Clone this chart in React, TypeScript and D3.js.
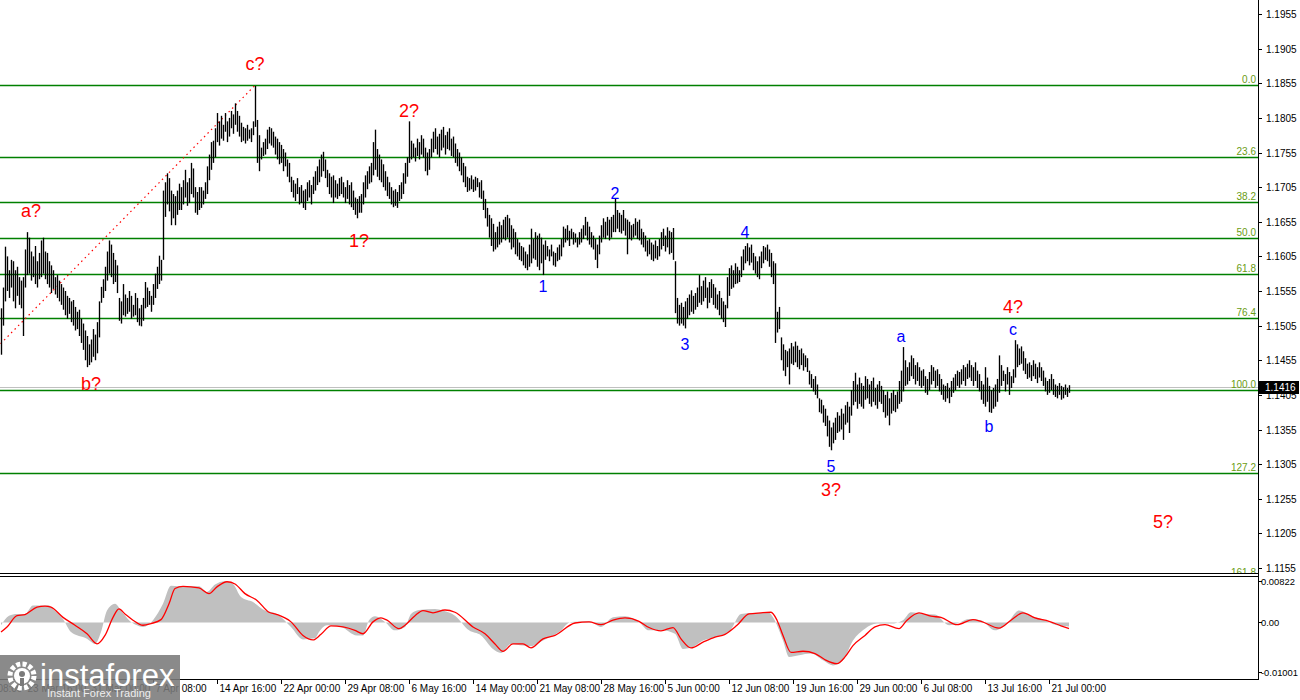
import { useEffect, useRef } from "react";
import * as d3 from "d3";

// H4 bars, oldest first. High / low in pips above 1.1000
const barHigh = [
  530, 560, 619, 605, 585, 600, 598, 585, 590, 575,
  570, 575, 615, 640, 632, 612, 605, 620, 598, 610,
  628, 632, 612, 610, 598, 592, 585, 575, 578, 570,
  565, 560, 555, 548, 545, 540, 542, 532, 525, 528,
  515, 508, 498, 490, 478, 485, 500, 492, 510, 540,
  561, 572, 590, 612, 628, 622, 610, 600, 592, 545,
  540, 565, 550, 545, 555, 548, 535, 552, 545, 530,
  535, 545, 568, 560, 555, 548, 565, 580, 590, 606,
  600, 700, 712, 725, 718, 700, 695, 692, 700, 710,
  705, 715, 730, 712, 718, 740, 732, 705, 698, 705,
  705, 700, 712, 735, 752, 770, 772, 790, 812, 800,
  808, 795, 812, 800, 805, 815, 810, 826, 815, 808,
  798, 792, 790, 795, 788, 790, 800, 851, 802, 780,
  762, 770, 775, 788, 792, 790, 785, 778, 775, 770,
  766, 760, 755, 745, 740, 720, 715, 710, 718, 705,
  708, 700, 702, 712, 715, 708, 720, 728, 735, 745,
  752, 756, 745, 730, 725, 720, 722, 715, 710, 718,
  720, 712, 705, 715, 708, 712, 700, 690, 688, 692,
  695, 712, 722, 728, 735, 740, 770, 788, 760, 752,
  745, 738, 728, 720, 712, 705, 700, 702, 698, 708,
  712, 725, 740, 748, 800, 772, 768, 762, 775, 770,
  780, 775, 762, 755, 760, 775, 785, 790, 778, 782,
  788, 792, 780, 785, 790, 775, 778, 768, 760, 755,
  748, 740, 735, 720, 718, 722, 716, 720, 718, 712,
  715, 700, 688, 675, 665, 660, 652, 640, 648, 655,
  650, 658, 662, 665, 660, 650, 645, 640, 630, 625,
  620, 618, 612, 608, 622, 645, 630, 640, 635, 638,
  632, 622, 628, 620, 615, 622, 612, 610, 618, 622,
  630, 648, 645, 650, 642, 645, 640, 638, 632, 640,
  645, 650, 662, 655, 648, 640, 635, 630, 622, 635,
  650, 660, 655, 662, 658, 662, 665, 688, 672, 668,
  665, 672, 660, 658, 655, 650, 652, 660, 655, 658,
  645, 640, 635, 628, 630, 625, 622, 628, 620, 630,
  640, 645, 635, 647, 642, 640, 646, 598, 545, 535,
  538, 532, 540, 545, 550, 556, 548, 552, 560, 578,
  562, 570, 575, 560, 568, 572, 565, 560, 550, 555,
  545, 540, 535, 575, 588, 592, 585, 595, 590, 585,
  605, 615, 620, 624, 618, 622, 610, 605, 598, 605,
  612, 620, 618, 622, 615, 610, 598, 595, 525, 532,
  488, 478, 470, 468, 472, 480, 475, 482, 476, 470,
  472, 465, 462, 458, 440, 435, 428, 432, 420, 400,
  398, 390, 385, 375, 368, 358, 365, 372, 380, 375,
  385, 378, 390, 395, 388, 412, 425, 437, 420, 430,
  422, 418, 432, 428, 420, 425, 430, 415, 420, 425,
  418, 412, 405, 410, 400, 408, 412, 405, 410, 425,
  440, 474, 455, 445, 452, 462, 458, 448, 452, 445,
  440, 442, 432, 428, 438, 448, 445, 440, 442, 435,
  428, 420, 418, 422, 415, 425, 430, 435, 440, 438,
  442, 448, 445, 450, 455, 448, 445, 452, 440, 435,
  425, 420, 445, 430, 418, 412, 415, 420, 428, 462,
  448, 440, 435, 445, 438, 432, 442, 484, 478, 472,
  475, 468, 458, 450, 452, 448, 455, 450, 445, 452,
  445, 440, 430, 425, 428, 435, 428, 420, 418, 422,
  418, 416, 420, 415, 419,
];
const barLow = [
  463, 505, 540, 555, 545, 560, 540, 530, 548, 535,
  530, 490, 560, 578, 580, 570, 575, 565, 560, 572,
  575, 580, 572, 565, 560, 552, 558, 550, 545, 540,
  535, 528, 520, 515, 522, 510, 505, 498, 500, 490,
  480, 470, 455, 445, 448, 452, 460, 455, 465, 488,
  538, 545, 555, 570, 580, 575, 565, 568, 552, 512,
  508, 520, 518, 522, 525, 515, 518, 520, 510, 505,
  504, 512, 530, 532, 535, 525, 535, 545, 558, 565,
  570, 600, 662, 680, 670, 650, 660, 650, 665, 672,
  672, 680, 690, 678, 682, 695, 690, 668, 665, 672,
  675, 680, 688, 695, 715, 730, 740, 748, 770, 765,
  775, 772, 785, 770, 778, 790, 782, 795, 785, 778,
  770, 772, 768, 772, 775, 770, 780, 792, 740, 728,
  745, 750, 752, 760, 768, 765, 762, 752, 745, 738,
  740, 728, 735, 720, 712, 698, 690, 685, 695, 680,
  682, 675, 672, 685, 690, 680, 695, 700, 708, 712,
  720, 728, 718, 705, 695, 690, 682, 690, 688, 692,
  695, 690, 682, 688, 680, 676, 672, 665, 660, 668,
  668, 680, 690, 702, 710, 712, 722, 730, 720, 715,
  712, 705, 700, 692, 688, 680, 676, 678, 675, 685,
  688, 695, 710, 720, 740, 745, 748, 742, 750, 745,
  752, 748, 728, 722, 730, 748, 755, 760, 752, 748,
  758, 762, 752, 760, 758, 750, 748, 740, 735, 728,
  722, 712, 705, 698, 700, 702, 698, 700, 705, 690,
  688, 672, 660, 648, 632, 620, 612, 615, 618, 622,
  625, 630, 628, 632, 625, 615, 618, 608, 605, 600,
  598, 592, 588, 585, 590, 595, 602, 600, 590, 585,
  595, 578, 600, 605, 598, 605, 592, 590, 598, 600,
  605, 618, 625, 628, 620, 630, 622, 625, 618, 622,
  625, 630, 635, 628, 622, 618, 615, 600, 588, 608,
  625, 632, 630, 635, 628, 632, 640, 640, 645, 640,
  638, 642, 635, 608, 630, 628, 632, 635, 630, 628,
  622, 618, 612, 605, 608, 600, 598, 602, 600, 605,
  615, 620, 612, 618, 608, 610, 600, 523, 508, 505,
  508, 505, 501, 515, 520, 525, 522, 528, 532, 538,
  535, 540, 545, 530, 538, 545, 535, 530, 528, 520,
  515, 510, 503, 530, 548, 558, 560, 565, 566, 568,
  575, 585, 595, 598, 592, 596, 585, 580, 575, 572,
  588, 595, 600, 598, 590, 575, 565, 480, 495, 500,
  455, 440, 432, 445, 420, 450, 448, 452, 445, 442,
  448, 440, 445, 438, 420, 415, 410, 405, 400, 380,
  378, 365, 360, 345, 330, 325, 335, 340, 350, 352,
  355, 340, 362, 365, 350, 375, 390, 395, 385, 392,
  388, 385, 398, 400, 392, 388, 395, 390, 385, 395,
  392, 380, 372, 375, 361, 378, 382, 380, 385, 392,
  395, 410, 418, 420, 425, 432, 428, 420, 425, 418,
  415, 418, 408, 405, 412, 420, 425, 415, 418, 410,
  405, 398, 395, 400, 393, 402, 408, 412, 418, 415,
  420, 425, 418, 428, 430, 425, 418, 425, 415, 410,
  398, 392, 388, 395, 380, 379, 385, 388, 395, 408,
  418, 425, 410, 420, 405, 415, 422, 430, 445, 448,
  450, 440, 435, 428, 430, 425, 432, 428, 422, 430,
  425, 418, 410, 405, 408, 412, 405, 402, 400, 405,
  398, 400, 405, 402, 408,
];

// time axis (bar index of each label)
const timeBars = [-20, 12, 44, 76, 108, 140, 172, 204, 236, 268, 300, 332, 364, 396, 428, 460, 492, 524];
const timeText = [
  "16 Mar 08:00", "23 Mar 16:00", "31 Mar 00:00", "7 Apr 08:00", "14 Apr 16:00", "22 Apr 00:00",
  "29 Apr 08:00", "6 May 16:00", "14 May 00:00", "21 May 08:00", "28 May 16:00", "5 Jun 00:00",
  "12 Jun 08:00", "19 Jun 16:00", "29 Jun 00:00", "6 Jul 08:00", "13 Jul 16:00", "21 Jul 00:00",
];

const priceTicks = [
  1.1955, 1.1905, 1.1855, 1.1805, 1.1755, 1.1705, 1.1655, 1.1605, 1.1555,
  1.1505, 1.1455, 1.1405, 1.1355, 1.1305, 1.1255, 1.1205, 1.1155,
];

// fibonacci grid
const fibRatios = [0, 0.236, 0.382, 0.5, 0.618, 0.764, 1, 1.272, 1.618];
const fibNames = ["0.0", "23.6", "38.2", "50.0", "61.8", "76.4", "100.0", "127.2", "161.8"];
const fibStart = { bar: -23, price: 1.1412 };
const fibEnd = { bar: 127, price: 1.1852 };

const lastPrice = 1.1416;

// wave marks
const waveNames = ["a?", "b?", "c?", "1?", "2?", "3?", "4?", "5?", "1", "2", "3", "4", "5", "a", "b", "c"];
const waveBars = [15, 45, 127, 179, 204, 415, 506, 581, 271, 307, 342, 372, 415, 450, 494, 506];
const wavePrices = [
  1.1662, 1.1412, 1.1874, 1.1619, 1.1806, 1.1259, 1.1523, 1.1213,
  1.1554, 1.1688, 1.147, 1.1632, 1.1294, 1.1481, 1.1351, 1.1491,
];

// oscillator, units of 0.0001
const histBars = [
  0, 4, 8, 12, 16, 24, 26, 31, 35, 43, 47, 50, 53, 57, 60, 64, 68, 71, 76, 81,
  85, 89, 99, 103, 107, 112, 116, 120, 126, 132, 138, 145, 151, 157, 159, 163, 170, 178, 181, 184,
  187, 192, 197, 202, 205, 209, 217, 221, 227, 234, 240, 246, 250, 255, 261, 265, 271, 279, 285, 294,
  300, 306, 312, 319, 324, 330, 337, 341, 345, 351, 357, 364, 370, 378, 384, 386, 391, 394, 399, 405,
  411, 416, 421, 426, 432, 438, 445, 451, 455, 461, 467, 474, 480, 484, 490, 497, 503, 509, 515, 521,
  528, 534,
];
const histVals = [
  -5, 12, 15, 15, 30, 30, 24, 6, -17, -29, -38, -17, 21, 33, 21, 4, -5, -8, 4, 33,
  65, 64, 64, 54, 67, 73, 68, 45, 36, 21, 15, -8, -30, -28, -17, -5, -8, -23, -23, 4,
  11, 1, -14, -8, 15, 22, 24, 21, 12, -14, -23, -47, -54, -38, -41, -42, -32, -17, 1, 2,
  -8, 9, 11, 1, -14, -14, -20, -47, -45, -32, -26, -17, 15, 17, 17, 9, -32, -61, -58, -55,
  -67, -76, -67, -32, -11, -2, -2, 4, 18, 15, 14, -5, 1, 6, 4, -14, -2, 21, 12, 5,
  -5, -7,
];
const sigBars = [
  0, 3, 8, 12, 18, 22, 25, 31, 37, 43, 48, 52, 56, 59, 62, 66, 71, 75, 80, 84,
  87, 91, 99, 104, 108, 113, 117, 122, 128, 134, 138, 145, 151, 156, 160, 165, 171, 177, 181, 186,
  190, 193, 199, 202, 207, 211, 216, 222, 227, 236, 242, 247, 251, 256, 261, 265, 271, 277, 287, 294,
  300, 306, 312, 319, 324, 330, 336, 340, 345, 351, 357, 362, 368, 374, 380, 385, 388, 391, 395, 401,
  407, 412, 418, 422, 426, 432, 437, 442, 449, 453, 459, 465, 470, 478, 486, 490, 499, 505, 511, 517,
  524, 530, 534,
];
const sigVals = [
  -17, -8, 12, 14, 27, 29, 27, 9, -5, -20, -38, -23, 9, 24, 15, 4, -5, -2, 5, 33,
  60, 64, 61, 51, 63, 72, 68, 51, 39, 18, 14, 1, -23, -31, -21, -6, -8, -14, -20, 1,
  8, 4, -11, -5, 12, 21, 17, 22, 18, -8, -20, -38, -51, -38, -38, -45, -29, -23, -1, 1,
  -4, 4, 8, 2, -9, -15, -9, -29, -45, -35, -26, -21, -5, 15, 17, 18, 4, -23, -53, -51,
  -55, -66, -73, -61, -41, -23, -8, -4, -11, 4, 17, 11, 9, -4, 5, 2, -10, 4, 17, 8,
  2, -6, -11,
];
const oscMax = 0.00822;
const oscMin = -0.01001;
const oscTickText = ["0.00822", "0.00", "-0.01001"];

const FONT = "'Liberation Sans', Arial, sans-serif";

export default function App() {
  const svgRef = useRef<SVGSVGElement>(null);

  useEffect(() => {
    if (!svgRef.current) return;
    const svg = d3.select(svgRef.current);
    svg.selectAll("*").remove();

    const plotRight = 1258;
    const mainBottom = 573;
    const oscTop = 576;
    const oscBottom = 679;

    const x = d3.scaleLinear().domain([0, barHigh.length - 1]).range([1, 1 + 2 * (barHigh.length - 1)]);
    const y = d3.scaleLinear().domain([1.1155, 1.1955]).range([568, 14]);
    const yo = d3.scaleLinear().domain([oscMin, oscMax]).range([oscBottom, oscTop]);
    const pip = (p: number) => 1.1 + p / 10000;
    const crisp = (v: number) => Math.round(v) + 0.5;

    svg.append("rect").attr("width", 1300).attr("height", 700).attr("fill", "#ffffff");

    const defs = svg.append("defs");
    defs.append("clipPath").attr("id", "clipMain")
      .append("rect").attr("x", 0).attr("y", 0).attr("width", plotRight).attr("height", mainBottom);
    defs.append("clipPath").attr("id", "clipOsc")
      .append("rect").attr("x", 0).attr("y", oscTop).attr("width", plotRight).attr("height", oscBottom - oscTop);

    const main = svg.append("g").attr("clip-path", "url(#clipMain)");

    // current bid line
    main.append("line")
      .attr("x1", 0).attr("x2", plotRight)
      .attr("y1", crisp(y(lastPrice))).attr("y2", crisp(y(lastPrice)))
      .attr("stroke", "#c0c0c0").attr("shape-rendering", "crispEdges");

    // fibonacci levels
    const span = fibEnd.price - fibStart.price;
    fibRatios.forEach((r, k) => {
      const yy = crisp(y(fibEnd.price - r * span));
      main.append("line")
        .attr("x1", 0).attr("x2", plotRight).attr("y1", yy).attr("y2", yy)
        .attr("stroke", "#008000").attr("stroke-width", 1.4);
      main.append("text")
        .attr("x", plotRight - 2).attr("y", yy - 2.5)
        .attr("text-anchor", "end")
        .attr("font-family", FONT).attr("font-size", 10)
        .attr("fill", "#6a9c12")
        .text(fibNames[k]);
    });

    // fib trend line (dotted)
    main.append("line")
      .attr("x1", x(fibStart.bar)).attr("y1", y(fibStart.price))
      .attr("x2", x(fibEnd.bar)).attr("y2", y(fibEnd.price))
      .attr("stroke", "#ff0000").attr("stroke-width", 1.2)
      .attr("stroke-dasharray", "1.5,3.5");

    // price bars
    main.append("g")
      .selectAll("line")
      .data(barHigh)
      .join("line")
      .attr("x1", (_, i) => x(i) + 0.5)
      .attr("x2", (_, i) => x(i) + 0.5)
      .attr("y1", (d) => y(pip(d)))
      .attr("y2", (_, i) => y(pip(barLow[i])))
      .attr("stroke", "#000000")
      .attr("stroke-width", 1.35);

    // wave labels
    main.append("g")
      .selectAll("text")
      .data(waveNames)
      .join("text")
      .attr("x", (_, i) => x(waveBars[i]))
      .attr("y", (_, i) => y(wavePrices[i]))
      .attr("text-anchor", "middle")
      .attr("font-family", FONT)
      .attr("font-size", (d) => (d.includes("?") ? 18 : 16))
      .attr("fill", (d) => (d.includes("?") ? "#ff0000" : "#0000ff"))
      .text((d) => d);

    // oscillator
    const osc = svg.append("g").attr("clip-path", "url(#clipOsc)");
    const histArea = d3.area<number>()
      .x((_, i) => x(histBars[i]))
      .y0(yo(0))
      .y1((d) => yo(d / 10000))
      .curve(d3.curveMonotoneX);
    osc.append("path").datum(histVals).attr("fill", "#c0c0c0").attr("d", histArea);

    const sigLine = d3.line<number>()
      .x((_, i) => x(sigBars[i]))
      .y((d) => yo(d / 10000))
      .curve(d3.curveMonotoneX);
    osc.append("path").datum(sigVals)
      .attr("fill", "none").attr("stroke", "#ff0000").attr("stroke-width", 1.3)
      .attr("d", sigLine);

    // frames
    const frame = svg.append("g").attr("stroke", "#000000").attr("shape-rendering", "crispEdges").attr("fill", "none");
    frame.append("line").attr("x1", plotRight + 0.5).attr("x2", plotRight + 0.5).attr("y1", 0).attr("y2", oscBottom + 1);
    frame.append("line").attr("x1", 0).attr("x2", plotRight).attr("y1", mainBottom + 0.5).attr("y2", mainBottom + 0.5);
    frame.append("line").attr("x1", 0).attr("x2", plotRight).attr("y1", oscTop + 0.5).attr("y2", oscTop + 0.5);
    frame.append("line").attr("x1", 0).attr("x2", plotRight).attr("y1", oscBottom + 0.5).attr("y2", oscBottom + 0.5);

    // price axis
    const pa = svg.append("g").attr("font-family", FONT).attr("font-size", 10);
    priceTicks.forEach((p) => {
      const yy = crisp(y(p));
      pa.append("line").attr("x1", plotRight + 1).attr("x2", plotRight + 4).attr("y1", yy).attr("y2", yy)
        .attr("stroke", "#000").attr("shape-rendering", "crispEdges");
      pa.append("text").attr("x", 1266).attr("y", yy + 3.5).attr("fill", "#000").text(p.toFixed(4));
    });
    const ly = y(lastPrice);
    pa.append("rect").attr("x", plotRight + 1).attr("y", Math.round(ly) - 6).attr("width", 40).attr("height", 13).attr("fill", "#000");
    pa.append("text").attr("x", 1265).attr("y", Math.round(ly) + 4).attr("fill", "#fff").text(lastPrice.toFixed(4));

    // oscillator axis
    const oscTicks = [oscMax, 0, oscMin];
    oscTicks.forEach((v, k) => {
      const yy = k === 0 ? yo(v) + 5 : k === 2 ? yo(v) - 7 : yo(v);
      pa.append("line").attr("x1", plotRight + 1).attr("x2", plotRight + 4).attr("y1", crisp(yy)).attr("y2", crisp(yy))
        .attr("stroke", "#000").attr("shape-rendering", "crispEdges");
      pa.append("text").attr("x", 1261).attr("y", yy + 3.5).attr("fill", "#000")
        .attr("font-size", 9.4).text(oscTickText[k]);
    });

    // time axis
    const ta = svg.append("g").attr("font-family", FONT).attr("font-size", 10);
    timeBars.forEach((b, k) => {
      const xx = crisp(x(b));
      ta.append("line").attr("x1", xx).attr("x2", xx).attr("y1", oscBottom + 1).attr("y2", oscBottom + 5)
        .attr("stroke", "#000").attr("shape-rendering", "crispEdges");
      ta.append("text").attr("x", xx + 2).attr("y", 692).attr("fill", "#000").text(timeText[k]);
    });

    // watermark
    const logo = svg.append("g");
    logo.append("rect").attr("x", 0).attr("y", 655).attr("width", 180).attr("height", 45)
      .attr("fill", "#7a7a7a").attr("opacity", 0.88);
    const gear = logo.append("g").attr("transform", "translate(22,676)");
    gear.append("circle").attr("r", 12).attr("fill", "none").attr("stroke", "#ffffff")
      .attr("stroke-width", 5).attr("stroke-dasharray", "4,2.3");
    gear.append("circle").attr("r", 8).attr("fill", "#ffffff");
    gear.append("circle").attr("cy", -2).attr("r", 3).attr("fill", "#7a7a7a");
    gear.append("rect").attr("x", -2).attr("y", 2).attr("width", 4).attr("height", 8).attr("fill", "#7a7a7a");
    logo.append("text").attr("x", 40).attr("y", 686)
      .attr("font-family", FONT).attr("font-size", 31).attr("fill", "#ffffff")
      .text("instaforex");
    logo.append("text").attr("x", 47).attr("y", 697)
      .attr("font-family", FONT).attr("font-size", 11).attr("fill", "#eeeeee")
      .text("Instant Forex Trading");
  }, []);

  return (
    <div>
      <style>{"body{margin:0;background:#fff;}"}</style>
      <svg ref={svgRef} width={1300} height={700} style={{ display: "block" }} />
    </div>
  );
}
